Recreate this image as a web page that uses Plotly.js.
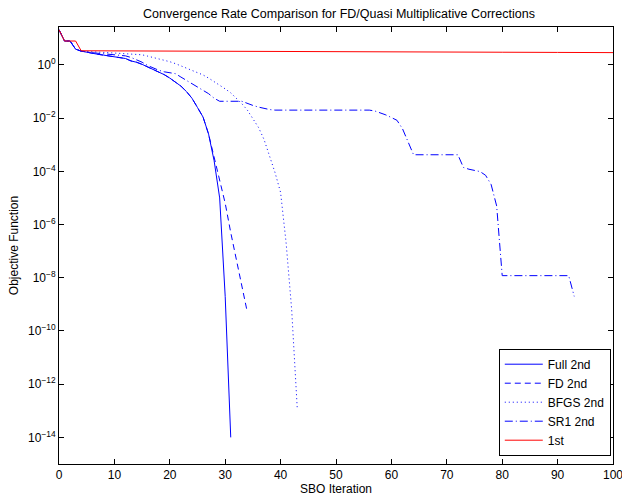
<!DOCTYPE html>
<html>
<head>
<meta charset="utf-8">
<script src="https://cdn.plot.ly/plotly-3.0.1.min.js"></script>
<style>html,body{margin:0;padding:0;background:#fff;}#chart{width:622px;height:496px;}</style>
</head>
<body>
<div id="chart"></div>
<script>
// SBO iterations and objective-function values
const fullX = [0,1,2,3,4,5,6,7,8,9,10,11,12,13,14,15,16,17,18,19,20,21,22,23,24,25,26,27,28,29,30,31];
const fullY = [21,7.9,7.9,3.9,3.3,2.95,2.69,2.51,2.34,2.14,2.0,1.86,1.74,1.41,1.26,1.05,0.85,0.69,0.55,0.43,0.32,0.22,0.16,0.10,0.056,0.025,0.011,2.5e-3,2.5e-4,1e-5,2e-9,1e-14];

const fdX = [0,1,2,3,4,5,6,7,8,9,10,11,12,13,14,15,16,17,18,19,20,21,22,23,24,25,26,27,28,29,30,31,32,33,34];
const fdY = [21,7.9,7.9,3.9,3.3,2.95,2.69,2.51,2.34,2.14,2.0,1.86,1.74,1.41,1.26,1.05,0.85,0.69,0.55,0.43,0.32,0.22,0.16,0.10,0.056,0.025,0.011,2.5e-3,3.2e-4,5e-5,6.3e-6,5e-7,5e-8,4e-9,5e-10];

const bfgsX = [0,1,2,3,4,5,6,7,8,9,10,11,12,13,14,15,16,17,18,19,20,21,22,23,24,25,26,27,28,29,30,31,32,33,34,35,36,37,38,39,40,41,42,43];
const bfgsY = [21,7.9,7.9,3.9,3.3,3.16,3.09,3.02,2.95,2.88,2.82,2.75,2.69,2.63,2.57,2.4,2.14,1.91,1.7,1.51,1.32,1.12,0.93,0.78,0.63,0.51,0.42,0.32,0.24,0.18,0.126,0.089,0.056,0.035,0.02,0.01,4.5e-3,1.6e-3,4e-4,8.9e-5,1.6e-5,2e-7,6.3e-10,1.3e-13];

const sr1X = [0,1,2,3,4,5,6,7,8,9,10,11,12,13,14,15,16,17,18,19,20,21,22,23,24,25,26,27,28,29,33,34,35,36,37,38,39,56,57,58,59,60,61,62,63,64,72,73,74,75,76,77,78,79,80,92,93];
const sr1Y = [21,7.9,7.9,3.9,3.3,3.0,2.88,2.75,2.63,2.51,2.4,2.29,2.19,1.91,1.58,1.26,0.95,0.76,0.63,0.55,0.5,0.47,0.35,0.26,0.2,0.15,0.11,0.083,0.056,0.043,0.043,0.035,0.030,0.026,0.023,0.021,0.02,0.02,0.0186,0.0158,0.0132,0.0105,0.0083,0.004,0.00126,4.2e-4,4.2e-4,1.4e-4,1.2e-4,1.07e-4,9.8e-5,7.1e-5,3.2e-5,5e-6,1.2e-8,1.2e-8,2e-9];

const firstX = [0,1,2,3,4,10,20,30,40,50,60,70,80,90,100];
const firstY = [21,7.9,7.9,7.9,3.4,3.35,3.3,3.25,3.2,3.15,3.1,3.05,3.0,2.95,2.9];

const xTickVals = [0,10,20,30,40,50,60,70,80,90,100];
const yTickVals = [1e-14,1e-12,1e-10,1e-8,1e-6,1e-4,1e-2,1];
const yTickText = ['10<sup>−14</sup>','10<sup>−12</sup>','10<sup>−10</sup>','10<sup>−8</sup>','10<sup>−6</sup>','10<sup>−4</sup>','10<sup>−2</sup>','10<sup>0</sup>'];

const blue = '#0000ff';
const traces = [
  {x: fullX, y: fullY, name: 'Full 2nd', mode: 'lines', line: {color: blue, width: 1, dash: 'solid'}},
  {x: fdX, y: fdY, name: 'FD 2nd', mode: 'lines', line: {color: blue, width: 1, dash: '6px,4px'}},
  {x: bfgsX, y: bfgsY, name: 'BFGS 2nd', mode: 'lines', line: {color: blue, width: 1, dash: '1px,3px'}},
  {x: sr1X, y: sr1Y, name: 'SR1 2nd', mode: 'lines', line: {color: blue, width: 1, dash: '8px,3px,1px,3px'}},
  {x: firstX, y: firstY, name: '1st', mode: 'lines', line: {color: '#ff0000', width: 1, dash: 'solid'}}
];

const font = {family: 'Liberation Sans, Arial, sans-serif', size: 12, color: '#000'};
const layout = {
  width: 622, height: 496,
  margin: {l: 59, r: 9, t: 27, b: 32, pad: 0},
  paper_bgcolor: '#fff', plot_bgcolor: '#fff',
  font: font,
  title: {text: 'Convergence Rate Comparison for FD/Quasi Multiplicative Corrections', font: {family: font.family, size: 12.5, color: '#000'}, x: 0.545, xanchor: 'center', y: 0.973, yanchor: 'middle'},
  xaxis: {
    range: [0, 100], tickvals: xTickVals,
    showgrid: false, zeroline: false,
    showline: true, linecolor: '#000', linewidth: 1, mirror: 'ticks',
    ticks: 'inside', ticklen: 5, tickcolor: '#000',
    tickfont: font, ticklabeloverflow: 'allow',
    title: {text: 'SBO Iteration', font: font, standoff: 2}
  },
  yaxis: {
    type: 'log', range: [-15, 1.425],
    tickvals: yTickVals, ticktext: yTickText,
    showgrid: false, zeroline: false,
    showline: true, linecolor: '#000', linewidth: 1, mirror: 'ticks',
    ticks: 'inside', ticklen: 5, tickcolor: '#000',
    tickfont: font, ticklabeloverflow: 'allow',
    title: {text: 'Objective Function', font: font, standoff: 6}
  },
  showlegend: true,
  legend: {
    x: 0.996, xanchor: 'right', y: 0.019, yanchor: 'bottom',
    bgcolor: '#fff', bordercolor: '#000', borderwidth: 1,
    font: font, tracegroupgap: 0, itemwidth: 38
  }
};

Plotly.newPlot('chart', traces, layout, {displayModeBar: false, staticPlot: true});
</script>
</body>
</html>
